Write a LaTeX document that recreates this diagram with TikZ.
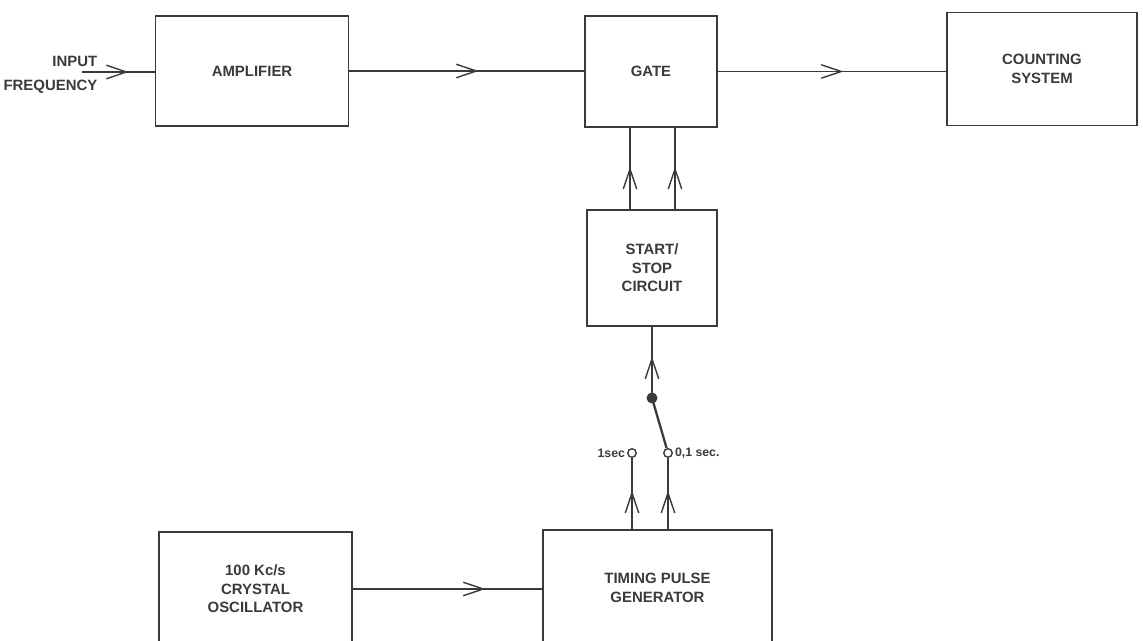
\documentclass[tikz,border=0pt]{standalone}
\usepackage{fontspec}
\setmainfont{Liberation Sans}
\usetikzlibrary{arrows.meta, positioning, decorations.markings}
\definecolor{ink}{HTML}{3A3A36}

\begin{document}
\begin{tikzpicture}[x=0.02cm, y=-0.02cm,
    blk/.style={draw=ink, line width=0.8pt, inner sep=0pt, text=ink, align=center,
      font=\bfseries\fontsize{8.5}{10.5}\selectfont},
    lbl/.style={text=ink, inner sep=1pt, font=\bfseries\fontsize{7}{8}\selectfont},
    wire/.style={draw=ink, line width=0.8pt},
    midarr/.style={wire, decoration={markings, mark=at position #1 with
      {\arrow{Straight Barb[length=4mm, width=2.7mm, line width=0.8pt]}}},
      postaction={decorate}},
    contact/.style={circle, draw=ink, line width=0.8pt, fill=white, inner sep=0pt, minimum size=1.7mm}
  ]
    \useasboundingbox (0,0) rectangle (1143,641);
    \clip (0,0) rectangle (1143,641);

    \node[blk, minimum width=3.86cm, minimum height=2.2cm]  (amp)   at (252,71)    {AMPLIFIER};
    \node[blk, minimum width=2.64cm, minimum height=2.22cm] (gate)  at (651,71.5)  {GATE};
    \node[blk, minimum width=3.8cm, minimum height=2.26cm]  (count) at (1042,69)   {COUNTING\\SYSTEM};
    \node[blk, minimum width=2.6cm, minimum height=2.32cm]  (ss)    at (652,268)   {START/\\STOP\\CIRCUIT};
    \node[blk, minimum width=3.86cm, minimum height=2.28cm] (osc)   at (255.5,589) {100 Kc/s\\CRYSTAL\\OSCILLATOR};
    \node[blk, minimum width=4.58cm, minimum height=2.32cm] (tpg)   at (657.5,588) {TIMING PULSE\\GENERATOR};

    \node[blk, draw=none, align=right, anchor=east,
      font=\bfseries\fontsize{8.5}{14}\selectfont] (inp) at (98,75) {INPUT\\FREQUENCY};
    \coordinate (src) at (82,72);

    \coordinate (piv) at (652,398);
    \node[contact] (c1) at (632,453) {};
    \node[contact] (c2) at (668,453) {};
    \node[lbl, left=0pt of c1]  (l1) {1sec};
    \node[lbl, right=0pt of c2] (l2) {0,1 sec.};

    \draw[midarr=0.64] (src) -- (src -| amp.west);
    \draw[midarr=0.55] (amp.east) -- (amp.east -| gate.west);
    \draw[midarr=0.55] (gate.east) -- (gate.east -| count.west);
    \draw[midarr=0.52] ([xshift=-0.44cm]ss.north) -- ([xshift=-0.44cm]ss.north |- gate.south);
    \draw[midarr=0.52] ([xshift=0.46cm]ss.north) -- ([xshift=0.46cm]ss.north |- gate.south);
    \draw[midarr=0.58] (piv) -- (ss.south);
    \draw[wire, line width=1.3pt] (piv) -- (c2);
    \fill[ink] (piv) circle (1.1mm);
    \draw[midarr=0.54] (c1 |- tpg.north) -- (c1);
    \draw[midarr=0.54] (c2 |- tpg.north) -- (c2);
    \draw[midarr=0.7] (osc.east) -- (osc.east -| tpg.west);
  \end{tikzpicture}
\end{document}
